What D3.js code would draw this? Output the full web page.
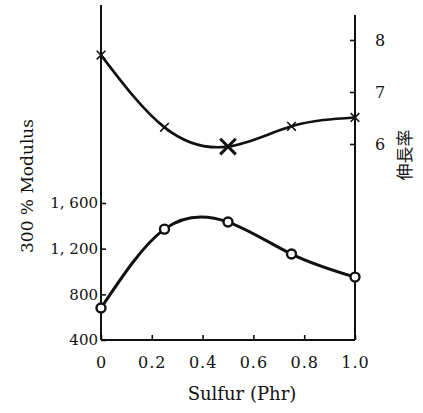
<!DOCTYPE html>
<html>
<head>
<meta charset="utf-8">
<script src="https://cdn.jsdelivr.net/npm/d3@7"></script>
<style>
  body { margin: 0; background: #fff; }
  text { font-family: "DejaVu Serif", "Liberation Serif", serif; fill: #111; }
</style>
</head>
<body>
<script>
// data
var sulfur = [0, 0.25, 0.5, 0.75, 1.0];
var modulus = [680, 1371, 1433, 1153, 951];        // 300% modulus, left axis
var elong = [7.71, 6.32, 5.95, 6.34, 6.51];         // right axis
var xTicks = [0, 0.2, 0.4, 0.6, 0.8, 1.0];
var xTickLabels = ["0", "0.2", "0.4", "0.6", "0.8", "1.0"];
var leftTicks = [400, 800, 1200, 1600];
var leftTickLabels = ["400", "800", "1, 200", "1, 600"];
var rightTicks = [6, 7, 8];

var width = 423, height = 413;

var svg = d3.select("body").append("svg")
    .attr("width", width)
    .attr("height", height);

// scales
var x = d3.scaleLinear().domain([0, 1]).range([101, 355]);
var yL = d3.scaleLinear().domain([400, 1600]).range([340, 203]);
var yR = d3.scaleLinear().domain([6, 8]).range([144, 40]);

// axis lines (drawn longer than the tick range, like the original)
svg.append("line").attr("x1", x(0)).attr("x2", x(0)).attr("y1", 5).attr("y2", yL(400))
    .attr("stroke", "#111").attr("stroke-width", 2);
svg.append("line").attr("x1", x(1)).attr("x2", x(1)).attr("y1", 15).attr("y2", yL(400))
    .attr("stroke", "#111").attr("stroke-width", 2);
svg.append("line").attr("x1", x(0)).attr("x2", x(1)).attr("y1", yL(400)).attr("y2", yL(400))
    .attr("stroke", "#111").attr("stroke-width", 2);

// left axis
var gL = svg.append("g")
    .attr("transform", "translate(" + x(0) + ",0)")
    .call(d3.axisLeft(yL).tickValues(leftTicks).tickSizeInner(-5).tickSizeOuter(0).tickPadding(3)
        .tickFormat(function (d, i) { return leftTickLabels[i]; }));

// right axis
var gR = svg.append("g")
    .attr("transform", "translate(" + x(1) + ",0)")
    .call(d3.axisRight(yR).tickValues(rightTicks).tickSizeInner(-5).tickSizeOuter(0).tickPadding(20)
        .tickFormat(d3.format("d")));

// bottom axis
var gB = svg.append("g")
    .attr("transform", "translate(0," + yL(400) + ")")
    .call(d3.axisBottom(x).tickValues(xTicks).tickSizeInner(-5).tickSizeOuter(0).tickPadding(17)
        .tickFormat(function (d, i) { return xTickLabels[i]; }));

[gL, gR, gB].forEach(function (g) {
    g.select(".domain").remove();
    g.selectAll(".tick line").attr("stroke", "#111").attr("stroke-width", 1.6);
    g.selectAll(".tick text").attr("font-size", 16).attr("fill", "#111");
});
gL.selectAll(".tick text").attr("font-size", 15);
gB.selectAll(".tick text").attr("letter-spacing", 1);

// curves
var lineTop = d3.line()
    .x(function (d, i) { return x(sulfur[i]); })
    .y(function (d) { return yR(d); })
    .curve(d3.curveNatural);

var lineBot = d3.line()
    .x(function (d, i) { return x(sulfur[i]); })
    .y(function (d) { return yL(d); })
    .curve(d3.curveNatural);

svg.append("path").datum(elong).attr("d", lineTop)
    .attr("fill", "none").attr("stroke", "#111").attr("stroke-width", 2.6);
svg.append("path").datum(modulus).attr("d", lineBot)
    .attr("fill", "none").attr("stroke", "#111").attr("stroke-width", 3);

// markers
svg.selectAll(".cross")
    .data(elong)
    .enter()
    .append("path")
    .attr("class", "cross")
    .attr("transform", function (d, i) { return "translate(" + x(sulfur[i]) + "," + yR(d) + ")"; })
    .attr("d", function (d, i) { return d3.symbol(d3.symbolTimes, i == 2 ? 160 : 50)(); })
    .attr("fill", "none").attr("stroke", "#111")
    .attr("stroke-width", function (d, i) { return i == 2 ? 3 : 1.6; });

svg.selectAll(".dot")
    .data(modulus)
    .enter()
    .append("circle")
    .attr("class", "dot")
    .attr("cx", function (d, i) { return x(sulfur[i]); })
    .attr("cy", function (d) { return yL(d); })
    .attr("r", 4.5)
    .attr("fill", "#fff").attr("stroke", "#111").attr("stroke-width", 2.4);

// titles
svg.append("text")
    .attr("transform", "translate(27,186) rotate(-90)")
    .attr("text-anchor", "middle")
    .attr("dy", "0.35em")
    .attr("font-size", 17)
    .text("300 % Modulus");

svg.append("text")
    .attr("x", 242).attr("y", 400)
    .attr("text-anchor", "middle")
    .attr("font-size", 18)
    .text("Sulfur (Phr)");

svg.append("text")
    .attr("transform", "translate(405,155) rotate(-90)")
    .attr("text-anchor", "middle")
    .attr("dy", "0.35em")
    .attr("font-size", 17)
    .style("font-family", "'Noto Sans CJK JP'")
    .text("伸長率");
</script>
</body>
</html>
